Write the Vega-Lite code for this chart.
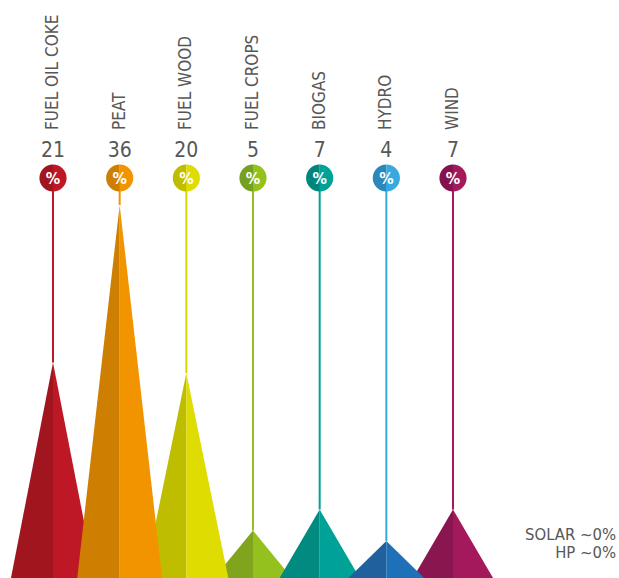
{
  "$schema": "https://vega.github.io/schema/vega-lite/v6.json",
  "width": 619,
  "height": 578,
  "padding": 0,
  "autosize": {"type": "fit", "contains": "padding"},
  "background": "white",
  "config": {"view": {"stroke": null}, "axis": {"disable": true}, "legend": {"disable": true}},
  "datasets": {
    "src": [
      {"name": "FUEL OIL COKE", "value": 21},
      {"name": "PEAT", "value": 36},
      {"name": "FUEL WOOD", "value": 20},
      {"name": "FUEL CROPS", "value": 5},
      {"name": "BIOGAS", "value": 7},
      {"name": "HYDRO", "value": 4},
      {"name": "WIND", "value": 7}
    ],
    "tri": [
      {"name": "FUEL OIL COKE", "part": "FUEL OIL COKE L", "corner": "left", "h": 0},
      {"name": "FUEL OIL COKE", "part": "FUEL OIL COKE L", "corner": "apex", "h": 21},
      {"name": "FUEL OIL COKE", "part": "FUEL OIL COKE R", "corner": "apex", "h": 21},
      {"name": "FUEL OIL COKE", "part": "FUEL OIL COKE R", "corner": "right", "h": 0},
      {"name": "FUEL CROPS", "part": "FUEL CROPS L", "corner": "left", "h": 0},
      {"name": "FUEL CROPS", "part": "FUEL CROPS L", "corner": "apex", "h": 5},
      {"name": "FUEL CROPS", "part": "FUEL CROPS R", "corner": "apex", "h": 5},
      {"name": "FUEL CROPS", "part": "FUEL CROPS R", "corner": "right", "h": 0},
      {"name": "WIND", "part": "WIND L", "corner": "left", "h": 0},
      {"name": "WIND", "part": "WIND L", "corner": "apex", "h": 7},
      {"name": "WIND", "part": "WIND R", "corner": "apex", "h": 7},
      {"name": "WIND", "part": "WIND R", "corner": "right", "h": 0},
      {"name": "BIOGAS", "part": "BIOGAS L", "corner": "left", "h": 0},
      {"name": "BIOGAS", "part": "BIOGAS L", "corner": "apex", "h": 7},
      {"name": "BIOGAS", "part": "BIOGAS R", "corner": "apex", "h": 7},
      {"name": "BIOGAS", "part": "BIOGAS R", "corner": "right", "h": 0},
      {"name": "HYDRO", "part": "HYDRO L", "corner": "left", "h": 0},
      {"name": "HYDRO", "part": "HYDRO L", "corner": "apex", "h": 4},
      {"name": "HYDRO", "part": "HYDRO R", "corner": "apex", "h": 4},
      {"name": "HYDRO", "part": "HYDRO R", "corner": "right", "h": 0},
      {"name": "FUEL WOOD", "part": "FUEL WOOD L", "corner": "left", "h": 0},
      {"name": "FUEL WOOD", "part": "FUEL WOOD L", "corner": "apex", "h": 20},
      {"name": "FUEL WOOD", "part": "FUEL WOOD R", "corner": "apex", "h": 20},
      {"name": "FUEL WOOD", "part": "FUEL WOOD R", "corner": "right", "h": 0},
      {"name": "PEAT", "part": "PEAT L", "corner": "left", "h": 0},
      {"name": "PEAT", "part": "PEAT L", "corner": "apex", "h": 36},
      {"name": "PEAT", "part": "PEAT R", "corner": "apex", "h": 36},
      {"name": "PEAT", "part": "PEAT R", "corner": "right", "h": 0}
    ],
    "notes": [{"text": ["SOLAR  ~0%", "HP  ~0%"]}]
  },
  "resolve": {"scale": {"color": "independent"}},
  "layer": [
    {
      "data": {"name": "tri"},
      "mark": {"type": "area", "clip": true},
      "encoding": {
        "x": {"field": "name", "type": "nominal",
              "scale": {"type": "point", "domain": ["FUEL OIL COKE", "PEAT", "FUEL WOOD", "FUEL CROPS", "BIOGAS", "HYDRO", "WIND"], "range": [53, 453], "padding": 0}},
        "xOffset": {"field": "corner", "type": "nominal", "scale": {"type": "point", "domain": ["left", "apex", "right"], "range": [-43, 43], "padding": 0}},
        "y": {"field": "h", "type": "quantitative", "stack": null, "scale": {"domain": [0.476, 55.52], "zero": false, "nice": false}},
        "y2": {"datum": 0},
        "color": {"field": "part", "type": "nominal",
          "scale": {
            "domain": ["FUEL OIL COKE L", "FUEL OIL COKE R", "PEAT L", "PEAT R", "FUEL WOOD L", "FUEL WOOD R", "FUEL CROPS L", "FUEL CROPS R", "BIOGAS L", "BIOGAS R", "HYDRO L", "HYDRO R", "WIND L", "WIND R"],
            "range": ["#A1151F", "#BE1826", "#CE7E00", "#F29400", "#BFBD00", "#DEDC00", "#81A41F", "#95C11F", "#008A80", "#00A298", "#20609C", "#1E71B8", "#89164F", "#A3195B"]
          }}
      }
    },
    {
      "data": {"name": "src"},
      "mark": {"type": "rule", "strokeWidth": 2},
      "encoding": {
        "x": {"field": "name", "type": "nominal"},
        "y": {"field": "value", "type": "quantitative"},
        "y2": {"datum": 38.57},
        "color": {"field": "name", "type": "nominal",
          "scale": {"domain": ["FUEL OIL COKE", "PEAT", "FUEL WOOD", "FUEL CROPS", "BIOGAS", "HYDRO", "WIND"],
                    "range": ["#BE1826", "#F29400", "#D9D600", "#95C11F", "#00A298", "#36A9E1", "#A3195B"]}}
      }
    },
    {
      "data": {"name": "src"},
      "mark": {"type": "point", "shape": "M0,-1A1,1,0,0,0,0,1Z", "filled": true, "opacity": 1, "size": 740},
      "encoding": {
        "x": {"field": "name", "type": "nominal"},
        "y": {"datum": 38.57},
        "color": {"field": "name", "type": "nominal",
          "scale": {"domain": ["FUEL OIL COKE", "PEAT", "FUEL WOOD", "FUEL CROPS", "BIOGAS", "HYDRO", "WIND"],
                    "range": ["#A1151F", "#CE7E00", "#BFBD00", "#76A01F", "#00857B", "#2C87BA", "#85124C"]}}
      }
    },
    {
      "data": {"name": "src"},
      "mark": {"type": "point", "shape": "M0,-1A1,1,0,0,1,0,1Z", "filled": true, "opacity": 1, "size": 740},
      "encoding": {
        "x": {"field": "name", "type": "nominal"},
        "y": {"datum": 38.57},
        "color": {"field": "name", "type": "nominal",
          "scale": {"domain": ["FUEL OIL COKE", "PEAT", "FUEL WOOD", "FUEL CROPS", "BIOGAS", "HYDRO", "WIND"],
                    "range": ["#BE1826", "#F29400", "#DEDC00", "#95C11F", "#00A298", "#36A9E1", "#A3195B"]}}
      }
    },
    {
      "data": {"name": "src"},
      "mark": {"type": "text", "text": "%", "color": "white", "font": "DejaVu Sans Condensed, sans-serif", "fontWeight": "bold", "fontSize": 16, "baseline": "middle", "align": "center", "dy": 1},
      "encoding": {
        "x": {"field": "name", "type": "nominal"},
        "y": {"datum": 38.57}
      }
    },
    {
      "data": {"name": "src"},
      "mark": {"type": "text", "color": "#575756", "font": "DejaVu Sans Condensed, sans-serif", "fontSize": 21, "baseline": "alphabetic", "align": "center"},
      "encoding": {
        "x": {"field": "name", "type": "nominal"},
        "y": {"datum": 40.57},
        "text": {"field": "value", "type": "quantitative"}
      }
    },
    {
      "data": {"name": "src"},
      "mark": {"type": "text", "color": "#575756", "font": "DejaVu Sans Condensed, sans-serif", "fontSize": 17, "angle": 270, "baseline": "middle", "align": "left"},
      "encoding": {
        "x": {"field": "name", "type": "nominal"},
        "y": {"datum": 43.14},
        "text": {"field": "name", "type": "nominal"}
      }
    },
    {
      "data": {"name": "notes"},
      "mark": {"type": "text", "color": "#575756", "font": "DejaVu Sans Condensed, sans-serif", "fontSize": 16.5, "align": "right", "baseline": "alphabetic", "lineHeight": 18.5, "dx": -3},
      "encoding": {
        "x": {"value": "width"},
        "y": {"datum": 4.1},
        "text": {"field": "text", "type": "nominal"}
      }
    }
  ]
}
